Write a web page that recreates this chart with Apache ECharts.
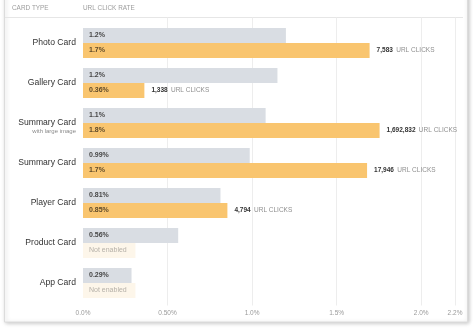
<!DOCTYPE html>
<html><head><meta charset="utf-8">
<script src="https://cdn.jsdelivr.net/npm/echarts@6/dist/echarts.min.js"></script>
<style>html,body{margin:0;padding:0;background:#fff}#c{width:476px;height:332px}</style>
</head><body><div id="c"></div>
<script>
const categories = ['Photo Card','Gallery Card','Summary Card','Summary Card','Player Card','Product Card','App Card'];
const subtitles = ['','','with large image','','','',''];
const clickRates = [1.2, 1.15, 1.08, 0.986, 0.813, 0.563, 0.287];
const clickRateLabels = ['1.2%','1.2%','1.1%','0.99%','0.81%','0.56%','0.29%'];
const urlClickRates = [1.695, 0.363, 1.754, 1.68, 0.854, null, null];
const urlClickRateLabels = ['1.7%','0.36%','1.8%','1.7%','0.85%','Not enabled','Not enabled'];
const urlClicks = ['7,583','1,338','1,692,832','17,946','4,794', null, null];
const tickLabels = ['0.0%','0.50%','1.0%','1.5%','2.0%','2.2%'];
const AXIS_MAX = 2.2, AXIS_INTERVAL = 0.5;
const PLACEHOLDER = 0.31;

const font = '"Liberation Sans", Arial, Helvetica, sans-serif';
const chart = echarts.init(document.getElementById('c'), null, {renderer:'canvas'});

const orangeData = urlClickRates.map((v,i) => v == null
  ? {value: PLACEHOLDER, itemStyle:{color:'#fdf6ea'}, label:{color:'#b5b0a8', fontWeight:'normal'}}
  : {value: v});
const clickData = urlClicks.map(v => v == null ? '-' : 0);

chart.setOption({
  animation:false,
  textStyle:{fontFamily:font},
  graphic:[
    {type:'rect', z:-10, shape:{x:4.5,y:-10,width:463,height:332}, style:{fill:'#fff', stroke:'#dcdcdc', lineWidth:1, shadowBlur:4, shadowColor:'rgba(0,0,0,0.22)', shadowOffsetY:1, shadowOffsetX:1}},
    {type:'line', z:-5, shape:{x1:5,y1:17.5,x2:463,y2:17.5}, style:{stroke:'#e6e6e6', lineWidth:1}},
    {type:'text', left:12, top:5, style:{text:'CARD TYPE', fill:'#9c9c9c', fontSize:6.4, fontFamily:font}},
    {type:'text', left:83, top:5, style:{text:'URL CLICK RATE', fill:'#9c9c9c', fontSize:6.4, fontFamily:font}}
  ],
  grid:[
    {left:83, right:21, top:23, height:280, containLabel:false},
    {left:83, right:21, top:17.5, height:288, containLabel:false}
  ],
  xAxis:[
    {gridIndex:0, type:'value', min:0, max:AXIS_MAX, interval:AXIS_INTERVAL, show:false, splitLine:{show:false}},
    {gridIndex:1, type:'value', min:0, max:AXIS_MAX, interval:AXIS_INTERVAL,
      axisLine:{show:false}, axisTick:{show:false},
      splitLine:{show:true, lineStyle:{color:['rgba(0,0,0,0)','#ededed','#ededed','#ededed','#ededed','#ededed'], width:1}},
      axisLabel:{show:true, margin:4, color:'#9a9a9a', fontSize:6.5, fontFamily:font, showMaxLabel:true, showMinLabel:true,
        formatter:(v,i)=>tickLabels[i]}}
  ],
  yAxis:[
    {gridIndex:0, type:'category', data:categories, inverse:true,
      axisLine:{show:false}, axisTick:{show:false}, splitLine:{show:false},
      axisLabel:{margin:7, color:'#333', fontSize:8.6, fontFamily:font,
        formatter:(v,i)=> subtitles[i] ? '{s| }\n{a|'+v+'}\n{b|'+subtitles[i]+'}' : '{a|'+v+'}',
        rich:{s:{fontSize:1,lineHeight:6}, a:{fontSize:8.6,color:'#333',lineHeight:10,align:'right'}, b:{fontSize:6,color:'#8a8a8a',lineHeight:7,align:'right'}}}},
    {gridIndex:1, type:'category', data:categories, show:false}
  ],
  series:[
    {type:'bar', xAxisIndex:0, yAxisIndex:0, data:clickRates, barWidth:15, barGap:'0%', barCategoryGap:'25%',
      itemStyle:{color:'#d9dde3'}, z:3,
      label:{show:true, position:'insideLeft', distance:6, color:'#474747', fontSize:7, fontWeight:'bold', fontFamily:font,
        formatter:p=>clickRateLabels[p.dataIndex]}},
    {type:'bar', xAxisIndex:0, yAxisIndex:0, data:orangeData, stack:'o', barWidth:15, itemStyle:{color:'#f9c56f'}, z:3,
      label:{show:true, position:'insideLeft', distance:6, color:'#5e4a2a', fontSize:7, fontWeight:'bold', fontFamily:font,
        formatter:p=>urlClickRateLabels[p.dataIndex]}},
    {type:'bar', xAxisIndex:0, yAxisIndex:0, data:clickData, stack:'o', barWidth:15, itemStyle:{color:'rgba(0,0,0,0)'}, z:3,
      label:{show:true, position:'right', distance:7, fontFamily:font,
        formatter:p=> urlClicks[p.dataIndex] ? '{n|'+urlClicks[p.dataIndex]+'} {t|URL CLICKS}' : '',
        rich:{n:{fontSize:6.5,fontWeight:'bold',color:'#333',fontFamily:font}, t:{fontSize:6.5,color:'#8f8f8f',fontFamily:font}}}}
  ]
});
</script></body></html>
